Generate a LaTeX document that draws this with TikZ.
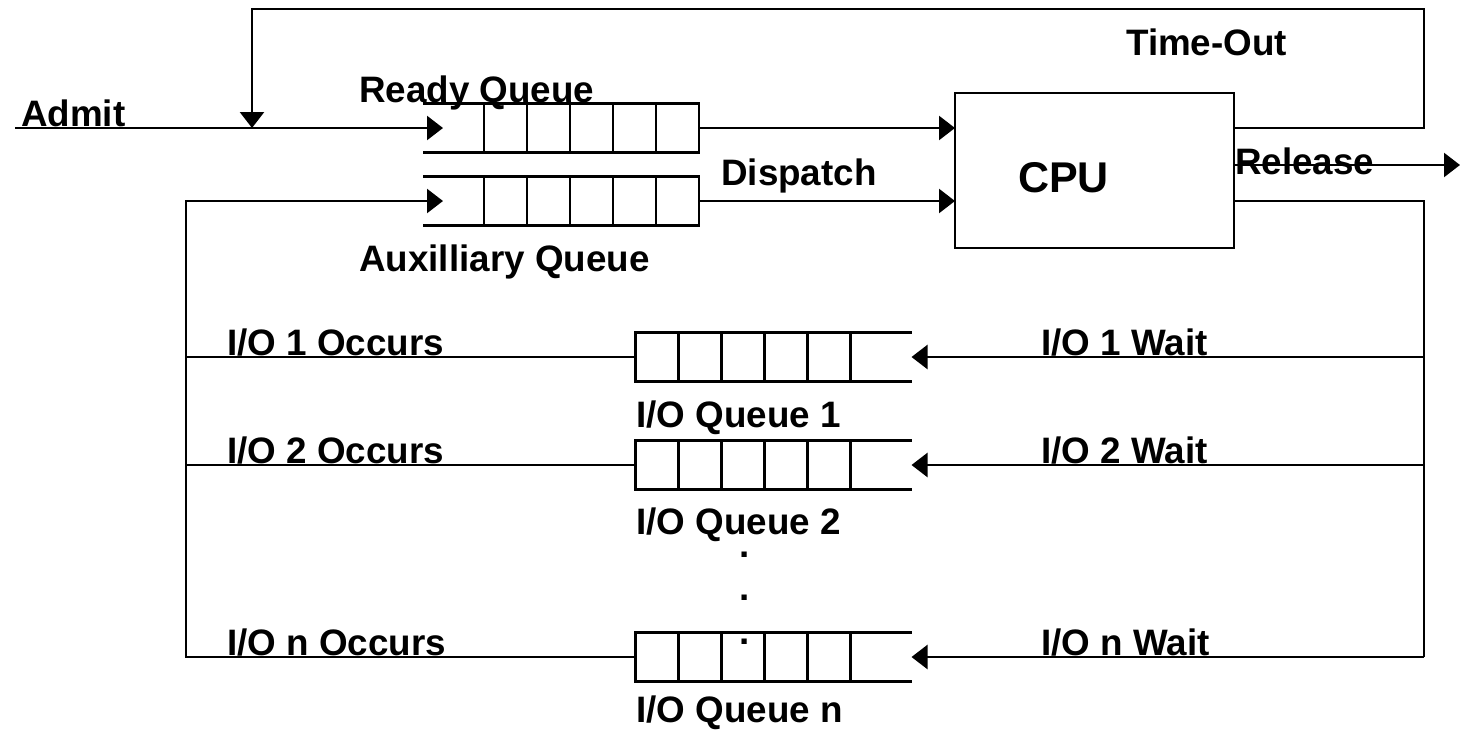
\documentclass[tikz,border=0pt]{standalone}
\usepackage{fontspec}
\setmainfont{Liberation Sans}
\usetikzlibrary{arrows.meta,calc}
\begin{document}
\begin{tikzpicture}[x=0.5pt,y=-0.5pt,
  every path/.style={line width=1.2pt},
  arr/.style={-{Triangle[length=8pt,width=12pt]}},
  lbl/.style={anchor=base west,inner sep=0pt,font=\fontsize{18.4}{20}\selectfont\bfseries},
  dotlbl/.style={anchor=base,inner sep=0pt,font=\fontsize{18.4}{20}\selectfont\bfseries},
  qbox/.style={rectangle,draw=none,inner sep=0pt,outer sep=0pt,minimum width=138pt,minimum height=24.5pt},
  cpubox/.style={rectangle,draw,inner sep=0pt,outer sep=0pt,minimum width=139.5pt,minimum height=77.5pt}]
\useasboundingbox (0,0) rectangle (1462,729);

% queues (invisible frames)
\node[qbox] (rq) at (561,128) {};
\node[qbox] (aq) at (561,201) {};
\node[qbox] (q1) at (773.5,357) {};
\node[qbox] (q2) at (773.5,465) {};
\node[qbox] (q3) at (773.5,657) {};
\node[cpubox] (cpu) at (1094.5,170.5) {};

% queue outlines: open on the left
\foreach \q in {rq,aq}{
  \draw (\q.north west) -- (\q.north east) -- (\q.south east) -- (\q.south west);
  \foreach \i in {1,...,5}
    \draw ($(\q.north east)+(-43*\i,0)$) -- ($(\q.south east)+(-43*\i,0)$);
}
% queue outlines: open on the right
\foreach \q in {q1,q2,q3}{
  \draw (\q.north east) -- (\q.north west) -- (\q.south west) -- (\q.south east);
  \foreach \i in {1,...,5}
    \draw ($(\q.north west)+(43*\i,0)$) -- ($(\q.south west)+(43*\i,0)$);
}

% named free ends
\coordinate (admit0) at (15,128);
\coordinate (rqin) at ($(rq.west)+(20,0)$);
\coordinate (aqin) at ($(aq.west)+(20,0)$);
\coordinate (tr) at (1424,9);
\coordinate (tl) at (252,9);
\coordinate (join) at (252,128);
\coordinate (rel) at (1460,165);
\coordinate (lx) at (186,657);
\coordinate (rx) at (1424,657);

% Admit
\draw[arr] (admit0) -- (rqin);
% Time-out loop
\draw[arr] (cpu.east |- rq.east) -- (tr |- rq.east) -- (tr) -- (tl) -- (join);
% Dispatch
\draw[arr] (rq.east) -- (cpu.west |- rq.east);
\draw[arr] (aq.east) -- (cpu.west |- aq.east);
% Release
\draw[arr] (rel -| cpu.east) -- (rel);
% I/O wait side
\draw (cpu.east |- aq.east) -- (rx |- aq.east) -- (rx);
\draw[arr] (rx |- q1.east) -- (q1.east);
\draw[arr] (rx |- q2.east) -- (q2.east);
\draw[arr] (rx) -- (q3.east);
% I/O occurs side
\draw[arr] (q3.west) -- (lx) -- (lx |- aq.west) -- (aqin);
\draw (lx |- q1.west) -- (q1.west);
\draw (lx |- q2.west) -- (q2.west);

% labels
\node[lbl] (tadmit) at (20,126) {Admit};
\node[lbl] (tready) at (358,102) {Ready Queue};
\node[lbl] (taux) at (358,271) {Auxilliary Queue};
\node[lbl] (tdisp) at (720,185) {Dispatch};
\node[lbl] (ttime) at (1125,55) {Time-Out};
\node[lbl,font=\fontsize{21.5}{24}\selectfont\bfseries] (tcpu) at (1017,192) {CPU};
\node[lbl] (trel) at (1234,174) {Release};
\node[lbl] (to1) at (226,355) {I/O 1 Occurs};
\node[lbl] (to2) at (226,463) {I/O 2 Occurs};
\node[lbl] (ton) at (226,655) {I/O n Occurs};
\node[lbl] (tw1) at (1040,355) {I/O 1 Wait};
\node[lbl] (tw2) at (1040,463) {I/O 2 Wait};
\node[lbl] (twn) at (1040,655) {I/O n Wait};
\node[lbl] (tq1) at (635,427) {I/O Queue 1};
\node[lbl] (tq2) at (635,534) {I/O Queue 2};
\node[lbl] (tqn) at (635,722) {I/O Queue n};
\node[dotlbl] (d1) at (745,557) {.};
\node[dotlbl] (d2) at (745,600) {.};
\node[dotlbl] (d3) at (745,644) {.};
\end{tikzpicture}
\end{document}
